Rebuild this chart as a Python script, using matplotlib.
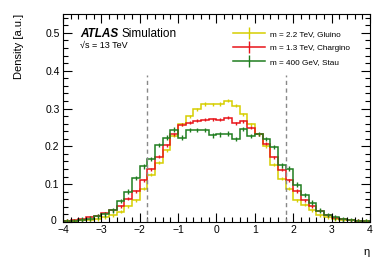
import numpy as np
import matplotlib
matplotlib.use("Agg")
import matplotlib.pyplot as plt
import matplotlib.transforms as mtransforms
from matplotlib.lines import Line2D
from matplotlib.ticker import MultipleLocator

plt.rcParams['font.family'] = ['Liberation Sans', 'DejaVu Sans']

# Bin edges in eta (40 bins of 0.2)
edges = np.round(np.arange(-4.0, 4.01, 0.2), 2)

# Density per bin
gluino = [0.003, 0.003, 0.004, 0.005, 0.007, 0.012, 0.018, 0.027, 0.042, 0.058,
          0.088, 0.125, 0.157, 0.190, 0.228, 0.258, 0.280, 0.298, 0.312, 0.311,
          0.312, 0.320, 0.308, 0.285, 0.258, 0.232, 0.200, 0.152, 0.114, 0.088,
          0.058, 0.045, 0.031, 0.018, 0.012, 0.007, 0.005, 0.004, 0.003, 0.003]
chargino = [0.003, 0.005, 0.007, 0.012, 0.016, 0.023, 0.031, 0.042, 0.062, 0.081,
            0.110, 0.140, 0.172, 0.203, 0.232, 0.257, 0.263, 0.268, 0.270, 0.272,
            0.271, 0.276, 0.261, 0.266, 0.249, 0.232, 0.207, 0.171, 0.138, 0.110,
            0.082, 0.058, 0.042, 0.030, 0.018, 0.011, 0.007, 0.005, 0.003, 0.002]
stau = [0.002, 0.003, 0.006, 0.009, 0.015, 0.020, 0.031, 0.056, 0.080, 0.116,
        0.147, 0.166, 0.203, 0.223, 0.244, 0.223, 0.243, 0.243, 0.243, 0.229,
        0.232, 0.234, 0.219, 0.246, 0.228, 0.233, 0.220, 0.198, 0.150, 0.141,
        0.099, 0.071, 0.051, 0.030, 0.018, 0.012, 0.007, 0.004, 0.003, 0.003]

# Statistical uncertainty (approximate size of the error bars)
err_gluino = 0.004
err_chargino = 0.004
err_stau = 0.006

labels = ['m = 2.2 TeV, Gluino', 'm = 1.3 TeV, Chargino', 'm = 400 GeV, Stau']
colors = ['#d6ce00', '#e8141a', '#1f7d1f']

fig = plt.figure(figsize=(3.9, 2.66), dpi=100)
ax = fig.add_axes([0.1615, 0.1654, 0.7872, 0.782])

centers = 0.5 * (edges[:-1] + edges[1:])
for vals, err, c in zip([gluino, chargino, stau],
                        [err_gluino, err_chargino, err_stau], colors):
    ax.stairs(vals, edges, color=c, lw=1.1)
    ax.errorbar(centers, vals, yerr=err, fmt='none', ecolor=c, elinewidth=1.0)

# dashed lines at |eta| = 1.8
for xv in (-1.8, 1.8):
    ax.plot([xv, xv], [0, 0.39], ls=(0, (3, 2.5)), color='#888888', lw=1.0)

ax.set_xlim(-4, 4)
ax.set_ylim(0, 0.55)
ax.xaxis.set_major_locator(MultipleLocator(1))
ax.xaxis.set_minor_locator(MultipleLocator(0.2))
ax.yaxis.set_minor_locator(MultipleLocator(0.02))
ax.set_yticks([0, 0.1, 0.2, 0.3, 0.4, 0.5])
ax.set_yticklabels(['0', '0.1', '0.2', '0.3', '0.4', '0.5'])
ax.tick_params(which='both', direction='in', top=True, right=True,
               labelsize=7.5, width=0.8, pad=2.5)
ax.tick_params(which='major', length=6.5)
ax.tick_params(which='minor', length=3.5)
for s in ax.spines.values():
    s.set_linewidth(0.8)

# nudge the "0" label so it does not collide with "-4"
zero = ax.get_yticklabels()[0]
zero.set_transform(zero.get_transform() +
                   mtransforms.ScaledTranslation(-3 / 100, 2 / 100, fig.dpi_scale_trans))

ax.set_xlabel('η', fontsize=8, loc='right', labelpad=8)
ax.set_ylabel('Density [a.u.]', fontsize=8, loc='top', labelpad=15)

ax.text(0.055, 0.905, 'ATLAS', transform=ax.transAxes, fontsize=8.5,
        fontweight='bold', fontstyle='italic', va='center')
ax.text(0.189, 0.905, 'Simulation', transform=ax.transAxes, fontsize=8.5,
        va='center')
ax.text(0.055, 0.849, '√s = 13 TeV', transform=ax.transAxes, fontsize=6.5,
        va='center')

handles = [Line2D([], [], color=c, lw=1.1, marker='|', markersize=9,
                  markeredgewidth=1.0) for c in colors]
ax.legend(handles, labels, loc='upper right', bbox_to_anchor=(0.952, 0.945),
          frameon=False, fontsize=5.9, handlelength=3.9, handletextpad=0.7,
          labelspacing=0.75, borderaxespad=0.2)

fig.savefig('out.png', dpi=100)
